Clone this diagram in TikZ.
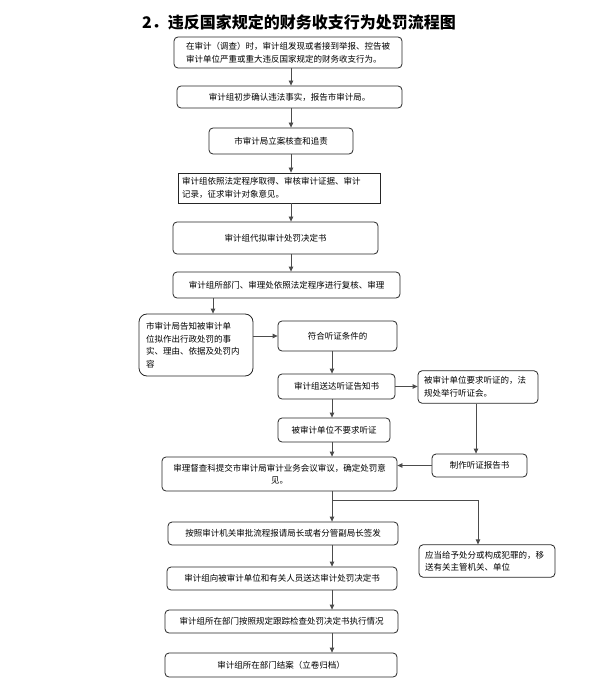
\documentclass[tikz,border=0pt]{standalone}
\usepackage{fontspec}
\newfontfamily\cjk{Noto Sans CJK SC}
\usetikzlibrary{arrows.meta}
\tikzset{
  box/.style={draw=black!85, line width=0.8pt, rounded corners=4pt, inner sep=2pt,
    font=\cjk\fontsize{8.5}{12.5}\selectfont, align=center},
  sqbox/.style={box, rounded corners=0pt},
  arr/.style={draw=black!70, line width=0.8pt, -{Triangle[length=5pt,width=4.5pt]}},
  ln/.style={draw=black!70, line width=0.8pt}
}
\begin{document}
\begin{tikzpicture}[x=1pt,y=-1pt]
\useasboundingbox (0,0) rectangle (598,684);
\node[font=\cjk\bfseries\fontsize{16}{18}\selectfont] (title) at (299,22) {2．违反国家规定的财务收支行为处罚流程图};

\node[box, align=left, minimum width=228, minimum height=31] (b1) at (288,52.5) {在审计（调查）时，审计组发现或者接到举报、控告被\\审计单位严重或重大违反国家规定的财务收支行为。};
\node[box, minimum width=225, minimum height=22] (b2) at (289.5,97) {审计组初步确认违法事实，报告市审计局。};
\node[box, minimum width=144, minimum height=26] (b3) at (281,141) {市审计局立案核查和追责};
\node[sqbox, align=left, text width=194, minimum width=202, minimum height=30, inner sep=4pt] (b4) at (279,188) {审计组依照法定程序取得、审核审计证据、审计\\记录，征求审计对象意见。};
\node[box, minimum width=205, minimum height=32] (b5) at (275.5,238) {审计组代拟审计处罚决定书};
\node[box, minimum width=227, minimum height=26] (b6) at (286.5,285) {审计组所部门、审理处依照法定程序进行复核、审理};
\node[box, rounded corners=8pt, align=left, text width=100, minimum width=114, minimum height=62, inner sep=7pt] (b7) at (196,345) {市审计局告知被审计单\\位拟作出行政处罚的事\\实、理由、依据及处罚内\\容};
\node[box, minimum width=119, minimum height=30] (b8) at (337.5,336) {符合听证条件的};
\node[box, minimum width=117, minimum height=25] (b9) at (336.5,386.5) {审计组送达听证告知书};
\node[box, align=left, text width=108, minimum width=120, minimum height=30, inner sep=6pt] (b10) at (478,387) {被审计单位要求听证的，法\\规处举行听证会。};
\node[box, minimum width=112, minimum height=24] (b11) at (334,430) {被审计单位不要求听证};
\node[box, minimum width=95, minimum height=23] (b12) at (479.5,465.5) {制作听证报告书};
\node[box, minimum width=235, minimum height=34] (b13) at (279.5,474) {审理督查科提交市审计局审计业务会议审议，确定处罚意\\见。};
\node[box, minimum width=230, minimum height=23] (b14) at (283,533.5) {按照审计机关审批流程报请局长或者分管副局长签发};
\node[box, align=left, text width=124, minimum width=136, minimum height=32, inner sep=6pt] (b15) at (487,561) {应当给予处分或构成犯罪的，移\\送有关主管机关、单位};
\node[box, minimum width=230, minimum height=23] (b16) at (282,578.5) {审计组向被审计单位和有关人员送达审计处罚决定书};
\node[box, minimum width=233, minimum height=23] (b17) at (281.5,621.5) {审计组所在部门按照规定跟踪检查处罚决定书执行情况};
\node[box, minimum width=232, minimum height=24] (b18) at (281,665) {审计组所在部门结案（立卷归档）};

\coordinate (xa) at (291,0);
\coordinate (xb) at (213,0);
\coordinate (xc) at (332,0);
\coordinate (xd) at (476,0);
\coordinate (xe) at (478,0);
\coordinate (j) at (332,500);

\draw[arr] (b1.south -| xa) -- (b2.north -| xa);
\draw[arr] (b2.south -| xa) -- (b3.north -| xa);
\draw[arr] (b3.south -| xa) -- (b4.north -| xa);
\draw[arr] (b4.south -| xa) -- (b5.north -| xa);
\draw[arr] (b5.south -| xa) -- (b6.north -| xa);
\draw[arr] (b6.south -| xb) -- (b7.north -| xb);
\draw[arr] (b7.east |- b8.west) -- (b8.west);
\draw[arr] (b8.south -| xc) -- (b9.north -| xc);
\draw[arr] (b9.east) -- (b10.west |- b9.east);
\draw[arr] (b9.south -| xc) -- (b11.north -| xc);
\draw[arr] (b10.south -| xd) -- (b12.north -| xd);
\draw[arr] (b11.south -| xc) -- (b13.north -| xc);
\draw[arr] (b12.west) -- (b13.east |- b12.west);
\draw[ln] (b13.south -| xc) -- (j);
\draw[arr] (j) -- (b14.north -| xc);
\draw[arr] (j) -| (b15.north -| xe);
\draw[arr] (b14.south -| xc) -- (b16.north -| xc);
\draw[arr] (b16.south -| xc) -- (b17.north -| xc);
\draw[arr] (b17.south -| xc) -- (b18.north -| xc);
\end{tikzpicture}
\end{document}
